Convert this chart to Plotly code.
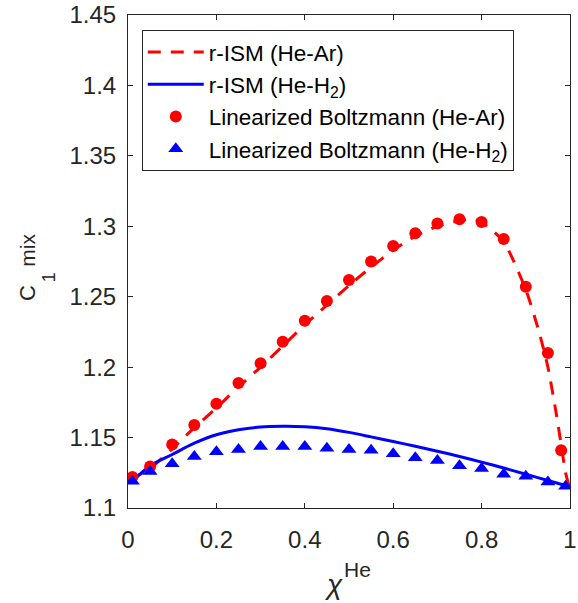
import plotly.graph_objects as go

# ---------------- data ----------------
x_lb = [0.01, 0.05, 0.10, 0.15, 0.20, 0.25, 0.30, 0.35, 0.40, 0.45, 0.50,
        0.55, 0.60, 0.65, 0.70, 0.75, 0.80, 0.85, 0.90, 0.95, 0.98]
lb_he_ar = [1.122, 1.1295, 1.145, 1.159, 1.174, 1.1888, 1.2027, 1.218, 1.233, 1.247, 1.2618,
            1.275, 1.286, 1.295, 1.302, 1.305, 1.303, 1.291, 1.257, 1.210, 1.141]

x_lb2 = [0.01, 0.05, 0.10, 0.15, 0.20, 0.25, 0.30, 0.35, 0.40, 0.45, 0.50,
         0.55, 0.60, 0.65, 0.70, 0.75, 0.80, 0.85, 0.90, 0.95, 0.99]
lb_he_h2 = [1.119, 1.126, 1.1314, 1.1366, 1.140, 1.1416, 1.1437, 1.1437, 1.1437, 1.1425, 1.1416,
            1.141, 1.1385, 1.1357, 1.1338, 1.130, 1.128, 1.124, 1.1225, 1.1184, 1.1154]

x_ism_ar = [0.01, 0.05, 0.10, 0.15, 0.20, 0.25, 0.30, 0.35, 0.40, 0.45, 0.50, 0.55, 0.60,
            0.65, 0.70, 0.75, 0.78, 0.80, 0.85, 0.90, 0.93, 0.95, 0.97, 0.98, 0.99, 1.00]
ism_he_ar = [1.121, 1.128, 1.142, 1.157, 1.171, 1.186, 1.200, 1.215, 1.230, 1.244, 1.258, 1.271, 1.283,
             1.293, 1.300, 1.304, 1.305, 1.303, 1.289, 1.255, 1.225, 1.200, 1.165, 1.145, 1.125, 1.113]

x_ism_h2 = [0.01, 0.05, 0.10, 0.15, 0.20, 0.25, 0.30, 0.35, 0.40, 0.45, 0.50, 0.55, 0.60,
            0.65, 0.70, 0.75, 0.80, 0.85, 0.90, 0.95, 1.00]
ism_he_h2 = [1.119, 1.130, 1.138, 1.146, 1.152, 1.1555, 1.1575, 1.158, 1.1577, 1.1563, 1.1537, 1.1505, 1.1472,
             1.1438, 1.1403, 1.1366, 1.1326, 1.1284, 1.1240, 1.1195, 1.115]

x_ticks = [0, 0.2, 0.4, 0.6, 0.8, 1]
x_tick_text = ["0", "0.2", "0.4", "0.6", "0.8", "1"]
y_ticks = [1.1, 1.15, 1.2, 1.25, 1.3, 1.35, 1.4, 1.45]
y_tick_text = ["1.1", "1.15", "1.2", "1.25", "1.3", "1.35", "1.4", "1.45"]

names = ["r-ISM (He-Ar)", "r-ISM (He-H<sub>2</sub>)",
         "Linearized Boltzmann (He-Ar)", "Linearized Boltzmann (He-H<sub>2</sub>)"]

# ---------------- layout constants ----------------
W, H = 578, 603
ML, MR, MT, MB = 128, 1, 13, 95
PW, PH = W - ML - MR, H - MT - MB
FONT = "Liberation Sans, Arial, sans-serif"
AX = "#262626"


def px(xp):
    return (xp - ML) / PW


def py(yp):
    return 1 - (yp - MT) / PH


fig = go.Figure()
fig.add_trace(go.Scatter(x=x_ism_ar, y=ism_he_ar, mode="lines", name=names[0],
                         line=dict(color="#FF0000", width=3, dash="13px,10px", shape="spline", smoothing=0.6)))
fig.add_trace(go.Scatter(x=x_ism_h2, y=ism_he_h2, mode="lines", name=names[1],
                         line=dict(color="#0000FF", width=3, shape="spline", smoothing=0.8)))
fig.add_trace(go.Scatter(x=x_lb, y=lb_he_ar, mode="markers", name=names[2],
                         marker=dict(color="#FF0000", size=12, symbol="circle")))
fig.add_trace(go.Scatter(x=x_lb2, y=lb_he_h2, mode="markers", name=names[3],
                         marker=dict(color="#0000FF", size=13, symbol="triangle-up")))

axis_common = dict(showline=True, linecolor=AX, linewidth=1, mirror="ticks",
                   ticks="inside", ticklen=5, tickcolor=AX, tickwidth=1,
                   showgrid=False, zeroline=False, ticklabeloverflow="allow",
                   tickfont=dict(family=FONT, size=24, color=AX))

fig.update_layout(
    width=W, height=H,
    margin=dict(l=ML, r=MR, t=MT, b=MB, pad=0),
    paper_bgcolor="white", plot_bgcolor="white",
    font=dict(family=FONT, color="black"),
    xaxis=dict(range=[0, 1], tickvals=x_ticks, ticktext=x_tick_text,
               ticklabelstandoff=10, **axis_common),
    yaxis=dict(range=[1.1, 1.45], tickvals=y_ticks, ticktext=y_tick_text,
               ticklabelstandoff=6, **axis_common),
    legend=dict(x=px(142), y=py(28), xanchor="left", yanchor="top",
                bgcolor="white", bordercolor=AX, borderwidth=1,
                font=dict(family=FONT, size=22.5, color="black"),
                itemwidth=56),
    showlegend=True,
)

# axis titles as text annotations
ann = [
    dict(text="<i>χ</i>", x=px(336.5), y=py(585), font=dict(size=28)),
    dict(text="He", x=px(361.5), y=py(569.5), font=dict(size=21)),
    dict(text="C", x=px(26.5), y=py(292), font=dict(size=22), textangle=-90),
    dict(text="1", x=px(48.5), y=py(276.5), font=dict(size=18), textangle=-90),
    dict(text="mix", x=px(25.5), y=py(249.5), font=dict(size=21), textangle=-90),
]
for a in ann:
    fig.add_annotation(xref="paper", yref="paper", xanchor="center", yanchor="middle",
                       showarrow=False, text=a["text"], x=a["x"], y=a["y"],
                       textangle=a.get("textangle", 0),
                       font=dict(family=FONT, color=AX, size=a["font"]["size"]))

fig.write_html("out.html")
